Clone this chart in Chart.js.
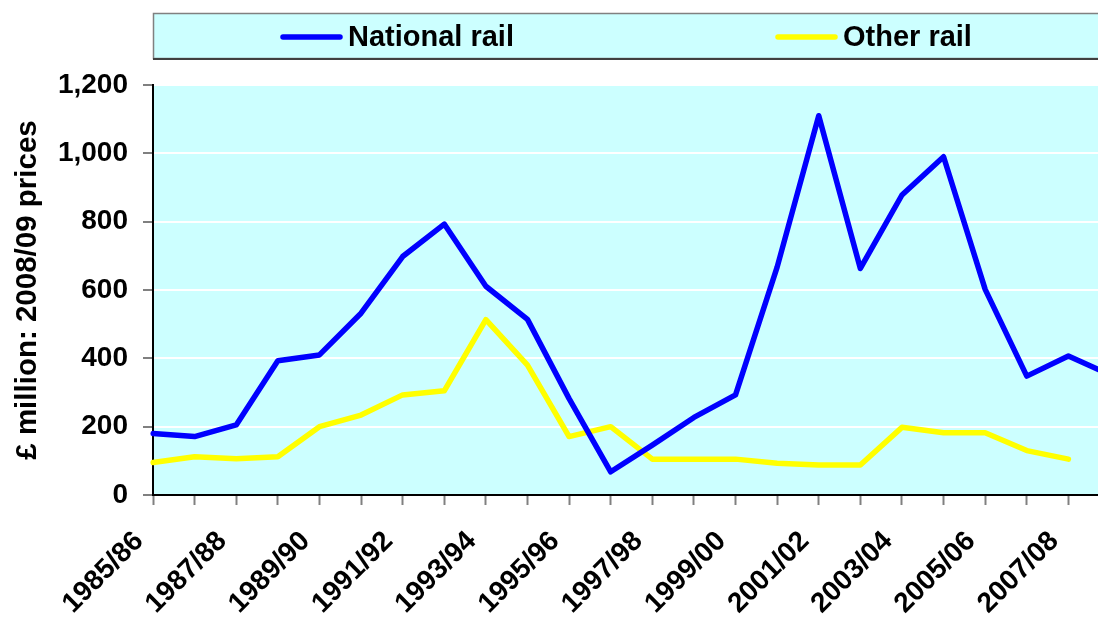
<!DOCTYPE html>
<html>
<head>
<meta charset="utf-8">
<title>Rail investment</title>
<script src="https://cdn.jsdelivr.net/npm/chart.js@4.4.0/dist/chart.umd.min.js"></script>
<style>
    html, body { margin: 0; padding: 0; background: #ffffff; overflow: hidden; }
    #mycanvas { display: block; }
</style>
</head>
<body>
<canvas id="mycanvas" width="1112" height="617"></canvas>
<script>
var years = ['1985/86', '1986/87', '1987/88', '1988/89', '1989/90', '1990/91', '1991/92', '1992/93',
             '1993/94', '1994/95', '1995/96', '1996/97', '1997/98', '1998/99', '1999/00', '2000/01',
             '2001/02', '2002/03', '2003/04', '2004/05', '2005/06', '2006/07', '2007/08', '2008/09'];

var nationalRail = [180, 171, 205, 393, 410, 532, 698, 793, 611, 514, 282, 68,
                    146, 227, 293, 667, 1110, 663, 878, 990, 602, 348, 407, 352];

var otherRail = [95, 112, 106, 112, 200, 234, 293, 305, 513, 380, 171, 200,
                 105, 105, 105, 93, 88, 88, 198, 182, 182, 130, 105, null];

var yTicks = [0, 200, 400, 600, 800, 1000, 1200];

var fontFamily = "'Liberation Sans', Arial, sans-serif";
var cyan = '#ccffff';

// light cyan plot area plus the boxed legend strip across the top
var backdrop = {
    id: 'backdrop',
    beforeDraw: function(chart) {
        var ctx = chart.ctx;
        var a = chart.chartArea;
        ctx.save();
        ctx.fillStyle = cyan;
        ctx.fillRect(a.left, a.top, a.right - a.left, a.bottom - a.top);
        ctx.restore();
    },
    afterDraw: function(chart) {
        var ctx = chart.ctx;
        var sets = chart.data.datasets;
        var lineX = [283, 778];
        ctx.save();
        ctx.fillStyle = cyan;
        ctx.fillRect(153, 13, chart.width - 153, 46);
        ctx.strokeStyle = '#808080';
        ctx.lineWidth = 1.5;
        ctx.strokeRect(153.5, 13.5, chart.width, 45);
        ctx.fillStyle = '#404040';
        ctx.fillRect(153, 58, chart.width - 153, 2);

        ctx.font = 'bold 29px ' + fontFamily;
        ctx.textBaseline = 'middle';
        ctx.lineCap = 'round';
        for (var i = 0; i < sets.length; i++) {
            ctx.strokeStyle = sets[i].borderColor;
            ctx.lineWidth = 5.5;
            ctx.beginPath();
            ctx.moveTo(lineX[i], 37);
            ctx.lineTo(lineX[i] + 57, 37);
            ctx.stroke();
            ctx.fillStyle = '#000000';
            ctx.fillText(sets[i].label, lineX[i] + 65, 38);
        }
        ctx.restore();
    }
};

var ctx = document.getElementById('mycanvas');

var lineGraph = new Chart(ctx, {
    type: 'line',
    data: {
        labels: years,
        datasets: [
            {
                label: 'National rail',
                data: nationalRail,
                borderColor: '#0000ff',
                borderWidth: 5.5,
                pointRadius: 0,
                tension: 0,
                borderCapStyle: 'round',
                borderJoinStyle: 'round',
                spanGaps: false
            },
            {
                label: 'Other rail',
                data: otherRail,
                borderColor: '#ffff00',
                borderWidth: 5.5,
                pointRadius: 0,
                tension: 0,
                borderCapStyle: 'round',
                borderJoinStyle: 'round',
                spanGaps: false
            }
        ]
    },
    options: {
        responsive: false,
        animation: false,
        events: [],
        layout: { padding: { top: 85, right: 2, left: 0, bottom: 0 } },
        plugins: {
            legend: { display: false },
            tooltip: { enabled: false }
        },
        scales: {
            x: {
                offset: false,
                afterFit: function(scale) {
                    scale.height = 122;
                    scale.paddingLeft = 0;
                    scale.paddingRight = 0;
                },
                grid: {
                    offset: false,
                    drawOnChartArea: false,
                    drawTicks: true,
                    tickLength: 10,
                    tickColor: '#808080',
                    tickWidth: 2
                },
                border: { color: '#000000', width: 2 },
                ticks: {
                    autoSkip: false,
                    minRotation: 45,
                    maxRotation: 45,
                    padding: 20,
                    labelOffset: -14,
                    color: '#000000',
                    font: { family: fontFamily, size: 28, weight: 'bold' },
                    callback: function(value, index) {
                        return index % 2 === 0 ? years[index] : '';
                    }
                }
            },
            y: {
                min: 0,
                max: 1200,
                afterFit: function(scale) { scale.width = 153; },
                afterBuildTicks: function(scale) {
                    scale.ticks = yTicks.map(function(v) { return { value: v }; });
                },
                grid: {
                    color: '#ffffff',
                    lineWidth: 2,
                    tickLength: 10,
                    tickColor: '#808080',
                    tickWidth: 2
                },
                border: { color: '#000000', width: 2 },
                ticks: {
                    padding: 15,
                    color: '#000000',
                    font: { family: fontFamily, size: 28, weight: 'bold' },
                    callback: function(value) { return value.toLocaleString('en-GB'); }
                },
                title: {
                    display: true,
                    text: '£ million: 2008/09 prices',
                    color: '#000000',
                    padding: { top: 10, bottom: 0 },
                    font: { family: fontFamily, size: 29.5, weight: 'bold' }
                }
            }
        }
    },
    plugins: [backdrop]
});
</script>
</body>
</html>
